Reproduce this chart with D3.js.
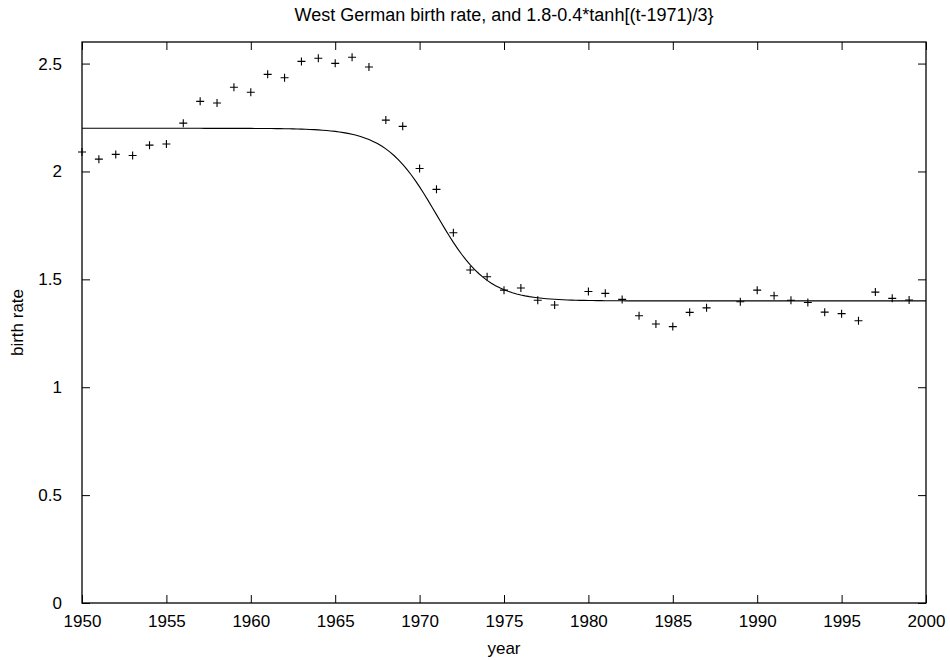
<!DOCTYPE html>
<html>
<head>
<meta charset="utf-8">
<script src="https://cdn.jsdelivr.net/npm/d3@7"></script>
<style>
  body { margin: 0; background: #fff; }
  svg text { font-family: "Liberation Sans", Arial, sans-serif; fill: #000; }
</style>
</head>
<body>
<div id="chart"></div>
<script>
//! CONSTS
const WIDTH = 950
const HEIGHT = 660
const MARGIN = { top: 42, right: 24, bottom: 57, left: 82 }

//! DATA (1979 and 1988 have no point)
const years = [1950, 1951, 1952, 1953, 1954, 1955, 1956, 1957, 1958, 1959,
  1960, 1961, 1962, 1963, 1964, 1965, 1966, 1967, 1968, 1969,
  1970, 1971, 1972, 1973, 1974, 1975, 1976, 1977, 1978,
  1980, 1981, 1982, 1983, 1984, 1985, 1986, 1987,
  1989, 1990, 1991, 1992, 1993, 1994, 1995, 1996, 1997, 1998, 1999]
const rates = [2.09, 2.057, 2.079, 2.074, 2.122, 2.127, 2.224, 2.325, 2.317, 2.39,
  2.367, 2.45, 2.434, 2.51, 2.525, 2.501, 2.529, 2.484, 2.238, 2.209,
  2.014, 1.917, 1.716, 1.543, 1.512, 1.45, 1.46, 1.403, 1.381,
  1.444, 1.435, 1.407, 1.331, 1.293, 1.281, 1.347, 1.368,
  1.396, 1.45, 1.424, 1.403, 1.393, 1.348, 1.341, 1.308, 1.441, 1.412, 1.404]

// fitted curve from the title: 1.8-0.4*tanh[(t-1971)/3]
const fitBase = 1.8
const fitAmp = 0.4
const fitCentre = 1971
const fitWidth = 3

const xTicks = [1950, 1955, 1960, 1965, 1970, 1975, 1980, 1985, 1990, 1995, 2000]
const yTicks = [0, 0.5, 1, 1.5, 2, 2.5]
const TITLE = 'West German birth rate, and 1.8-0.4*tanh[(t-1971)/3}'

//! SVG
const svg = d3.select('#chart')
  .append('svg')
  .attr('width', WIDTH)
  .attr('height', HEIGHT)

const x = d3.scaleLinear()
  .domain([1950, 2000])
  .range([MARGIN.left, WIDTH - MARGIN.right])

const y = d3.scaleLinear()
  .domain([0, 2.6])
  .range([HEIGHT - MARGIN.bottom, MARGIN.top])

// axes, gnuplot style: ticks inside, mirrored
const TICK = 8
const FONT = 17

svg.append('g')
  .attr('transform', `translate(0,${y(0)})`)
  .call(d3.axisBottom(x).tickValues(xTicks).tickFormat(d3.format('d')).tickSizeInner(-TICK).tickSizeOuter(0).tickPadding(12))
svg.append('g')
  .attr('transform', `translate(0,${MARGIN.top})`)
  .call(d3.axisTop(x).tickValues(xTicks).tickFormat('').tickSizeInner(-TICK).tickSizeOuter(0))
svg.append('g')
  .attr('transform', `translate(${MARGIN.left},0)`)
  .call(d3.axisLeft(y).tickValues(yTicks).tickFormat(d3.format('')).tickSizeInner(-TICK).tickSizeOuter(0).tickPadding(20))
svg.append('g')
  .attr('transform', `translate(${WIDTH - MARGIN.right},0)`)
  .call(d3.axisRight(y).tickValues(yTicks).tickFormat('').tickSizeInner(-TICK).tickSizeOuter(0))

svg.selectAll('.domain').remove()
svg.selectAll('.tick line').attr('stroke', '#000').attr('stroke-width', 1)
svg.selectAll('.tick text').attr('font-size', FONT).attr('fill', '#000')

// frame
svg.append('rect')
  .attr('x', x(1950))
  .attr('y', y(2.6))
  .attr('width', x(2000) - x(1950))
  .attr('height', y(0) - y(2.6))
  .attr('fill', 'none')
  .attr('stroke', '#000')
  .attr('stroke-width', 1.3)

// fitted curve
const tSteps = d3.range(1950, 2000.01, 0.25)
const line = d3.line()
  .x(t => x(t))
  .y(t => y(fitBase - fitAmp * Math.tanh((t - fitCentre) / fitWidth)))
svg.append('path')
  .datum(tSteps)
  .attr('d', line)
  .attr('fill', 'none')
  .attr('stroke', '#000')
  .attr('stroke-width', 1.1)

// data points as '+'
const S = 4
svg.append('g')
  .selectAll('path')
  .data(years.map((yr, i) => [yr, rates[i]]))
  .enter()
  .append('path')
  .attr('d', d => {
    const px = x(d[0]), py = y(d[1])
    return `M${px - S},${py}H${px + S}M${px},${py - S}V${py + S}`
  })
  .attr('stroke', '#000')
  .attr('stroke-width', 1.1)
  .attr('fill', 'none')

// labels
svg.append('text')
  .attr('x', (x(1950) + x(2000)) / 2)
  .attr('y', 21)
  .attr('text-anchor', 'middle')
  .attr('font-size', 18)
  .text(TITLE)

svg.append('text')
  .attr('x', (x(1950) + x(2000)) / 2)
  .attr('y', 654)
  .attr('text-anchor', 'middle')
  .attr('font-size', FONT)
  .text('year')

svg.append('text')
  .attr('transform', `translate(23,${(y(0) + y(2.6)) / 2}) rotate(-90)`)
  .attr('text-anchor', 'middle')
  .attr('font-size', FONT)
  .text('birth rate')
</script>
</body>
</html>
